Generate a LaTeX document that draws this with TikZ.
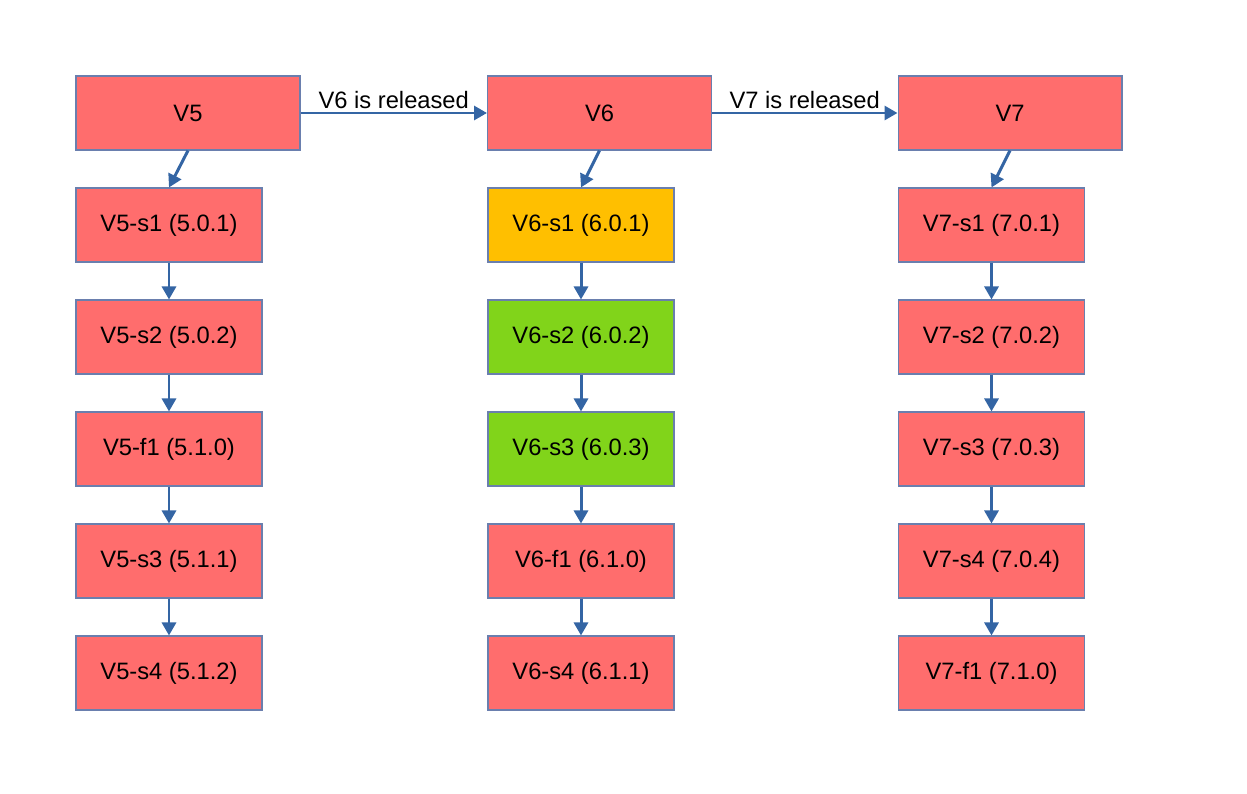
\documentclass[tikz,border=0pt]{standalone}
\usepackage{fontspec}
\setmainfont{Liberation Sans}
\definecolor{relred}{HTML}{FF6D6D}
\definecolor{relgold}{HTML}{FFBF00}
\definecolor{relgreen}{HTML}{81D41A}
\definecolor{arrowblue}{HTML}{3465A4}
\definecolor{boxline}{HTML}{6A7FAE}
\usetikzlibrary{arrows.meta,positioning}

\begin{document}
\begin{tikzpicture}[x=0.02cm,y=-0.02cm,
    font=\fontsize{13.5pt}{16pt}\selectfont,
    major/.style={draw=boxline,line width=0.6pt,fill=relred,minimum width=4.48cm,minimum height=1.48cm,inner sep=0pt},
    minor/.style={draw=boxline,line width=0.6pt,fill=#1,minimum width=3.72cm,minimum height=1.48cm,inner sep=0pt},
    minor/.default=relred,
    link/.style={draw=arrowblue,line width=1.7pt,-{Triangle[length=0.26cm,width=0.28cm]}}]
        \useasboundingbox (0,0) rectangle (1247,794);
        % major versions
        \node[major] (v5) at (188,113) {V5};
        \node[major] (v6) at (599.5,113) {V6};
        \node[major] (v7) at (1010,113) {V7};
        \draw[link] (v5) -- (v6) node[midway,above=-2pt,black]{V6 is released};
        \draw[link] (v6) -- (v7) node[midway,above=-2pt,black]{V7 is released};
        % V5 line
        \foreach \n/\t [count=\i] in {s1/5.0.1,s2/5.0.2,f1/5.1.0,s3/5.1.1,s4/5.1.2}
            \node[minor] (v5-\i) at (169,113+112*\i) {V5-\n{} (\t)};
        % V6 line (gold = current, green = done)
        \foreach \n/\t/\c [count=\i] in {s1/6.0.1/relgold,s2/6.0.2/relgreen,s3/6.0.3/relgreen,f1/6.1.0/relred,s4/6.1.1/relred}
            \node[minor=\c] (v6-\i) at (581,113+112*\i) {V6-\n{} (\t)};
        % V7 line
        \foreach \n/\t [count=\i] in {s1/7.0.1,s2/7.0.2,s3/7.0.3,s4/7.0.4,f1/7.1.0}
            \node[minor] (v7-\i) at (991.5,113+112*\i) {V7-\n{} (\t)};
        \foreach \v in {5,6,7} {
            \draw[link] (v\v.south) -- (v\v-1.north);
            \foreach \i [evaluate=\i as \j using int(\i+1)] in {1,...,4}
                \draw[link] (v\v-\i) -- (v\v-\j);
        }
      \end{tikzpicture}
\end{document}
